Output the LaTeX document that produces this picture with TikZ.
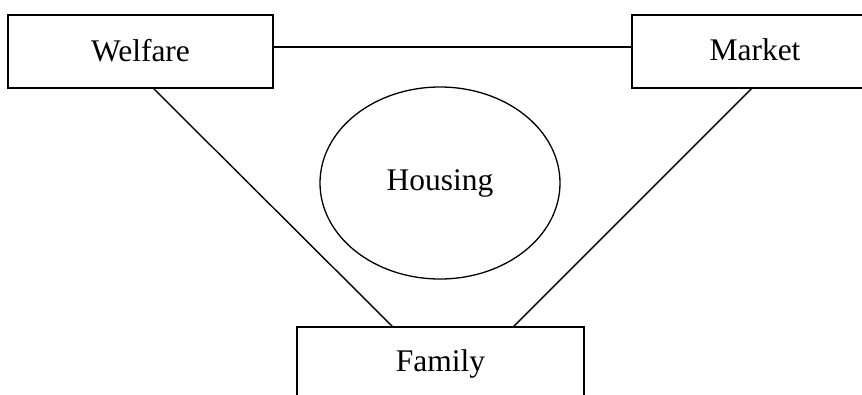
\documentclass[tikz,border=0pt]{standalone}
\usepackage{fontspec}
\setmainfont{Liberation Serif}
\usetikzlibrary{shapes.geometric}
\begin{document}
\begin{tikzpicture}[x=1pt,y=-1pt,
  every node/.style={font=\fontsize{31.5}{36}\selectfont, outer sep=0pt, inner sep=0pt},
  box/.style={draw, line width=1.5pt, rectangle, minimum height=73pt},
  blob/.style={draw, line width=1.3pt, ellipse, minimum width=240pt, minimum height=192pt},
  link/.style={line width=1.4pt}]
  \useasboundingbox (0,0) rectangle (862,394);
  \clip (0,0) rectangle (862,394);
  \fill[white] (0,0) rectangle (862,394);

  % the three corners of the triangle
  \node[box, minimum width=265pt] (welfare) at (140.5,51.5) {\raisebox{3pt}{Welfare}};
  \node[box, minimum width=246pt] (market) at (755,51.5) {\raisebox{3pt}{Market}};
  \node[box, minimum width=287pt] (family) at (440.5,363.5) {Family};

  % the centre
  \node[blob] (housing) at (440,183) {\raisebox{1.5pt}{Housing}};

  % connectors
  \draw[link] ([yshift=4.5pt]welfare.east) -- ([yshift=4.5pt]market.west);
  \draw[link] ([xshift=12.5pt]welfare.south) -- ([xshift=-47.5pt]family.north);
  \draw[link] ([xshift=-3pt]market.south) -- ([xshift=72.5pt]family.north);
\end{tikzpicture}
\end{document}
